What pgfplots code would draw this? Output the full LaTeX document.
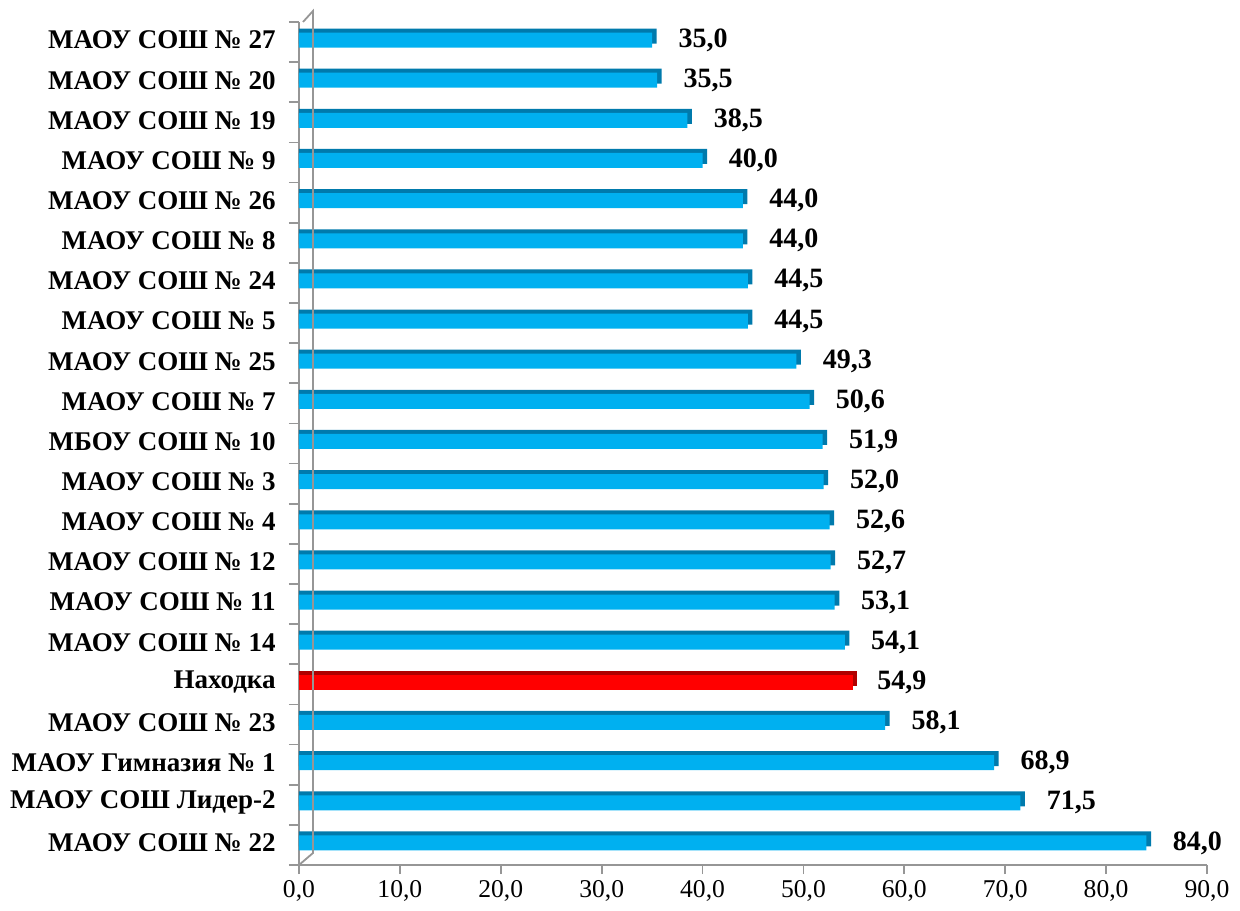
\documentclass[border=0pt]{standalone}
\usepackage{pgfplots}
\pgfplotsset{compat=1.18}
\usepackage{pgfplotstable}
\usepackage{fontspec}
\setmainfont{Liberation Serif}
\definecolor{barblue}{RGB}{0,176,240}
\definecolor{bardark}{RGB}{0,122,172}
\definecolor{barred}{RGB}{255,0,0}
\definecolor{reddark}{RGB}{176,0,0}
\definecolor{axgray}{RGB}{150,150,150}

\pgfplotstableread{
y v
0 84.0
1 71.5
2 68.9
3 58.1
5 54.1
6 53.1
7 52.7
8 52.6
9 52.0
10 51.9
11 50.6
12 49.3
13 44.5
14 44.5
15 44.0
16 44.0
17 40.0
18 38.5
19 35.5
20 35.0
}\blueTable
\pgfplotstableread{
y v
4 54.9
}\redTable

\begin{document}
\begin{tikzpicture}
\useasboundingbox (-149.5pt,-22.5pt) rectangle (470.5pt,432.5pt);
\begin{axis}[
  at={(0,0)}, anchor=south west,
  scale only axis, width=454pt, height=421.5pt,
  xmin=0, xmax=90, ymin=-0.55, ymax=20.45,
  clip=false,
  axis x line*=bottom, axis y line*=left,
  axis line style={draw=axgray, line width=0.9pt, -},
  xtick={0,10,...,90},
  xticklabel style={/pgf/number format/fixed, /pgf/number format/fixed zerofill, /pgf/number format/precision=1, /pgf/number format/use comma, /pgf/number format/assume math mode=true, font=\fontsize{12.8}{14}\selectfont, yshift=0.5pt},
  ytick={0,...,20},
  yticklabels={МАОУ СОШ № 22, МАОУ СОШ Лидер-2, МАОУ Гимназия № 1, МАОУ СОШ № 23, Находка, МАОУ СОШ № 14, МАОУ СОШ № 11, МАОУ СОШ № 12, МАОУ СОШ № 4, МАОУ СОШ № 3, МБОУ СОШ № 10, МАОУ СОШ № 7, МАОУ СОШ № 25, МАОУ СОШ № 5, МАОУ СОШ № 24, МАОУ СОШ № 8, МАОУ СОШ № 26, МАОУ СОШ № 9, МАОУ СОШ № 19, МАОУ СОШ № 20, МАОУ СОШ № 27},
  yticklabel style={font=\bfseries\fontsize{13.5}{15}\selectfont, inner sep=0pt, xshift=-7pt},
  minor ytick={-0.55,0.45,...,20.5},
  tick align=outside,
  major tick length=4.5pt,
  minor tick length=5pt,
  every tick/.style={draw=axgray, line width=0.9pt},
  y tick style={draw=none},
  minor y tick style={draw=axgray, line width=0.9pt},
  /pgf/bar shift=0pt,
]
% back (top/side faces)
\addplot[xbar, bar width=7.5pt, bar shift=2pt, fill=bardark, draw=none] table[x expr=\thisrow{v}+0.45, y=y]{\blueTable};
\addplot[xbar, bar width=7.5pt, bar shift=2pt, fill=reddark, draw=none] table[x expr=\thisrow{v}+0.45, y=y]{\redTable};
% front faces
\addplot[xbar, bar width=7.5pt, bar shift=0pt, fill=barblue, draw=none,
  point meta=x,
  nodes near coords={\pgfmathprintnumber[fixed, fixed zerofill, precision=1, use comma, assume math mode=true]{\pgfplotspointmeta}},
  every node near coord/.append style={font=\bfseries\fontsize{14}{16}\selectfont, anchor=west, inner sep=0pt, xshift=13pt, text=black}
] table[x=v, y=y]{\blueTable};
\addplot[xbar, bar width=7.5pt, bar shift=0pt, fill=barred, draw=none,
  point meta=x,
  nodes near coords={\pgfmathprintnumber[fixed, fixed zerofill, precision=1, use comma, assume math mode=true]{\pgfplotspointmeta}},
  every node near coord/.append style={font=\bfseries\fontsize{14}{16}\selectfont, anchor=west, inner sep=0pt, xshift=12pt, text=black}
] table[x=v, y=y]{\redTable};
% 3D back wall of the axis
\draw[axgray, line width=0.9pt] (rel axis cs:0,0) -- ([xshift=7pt,yshift=6pt]rel axis cs:0,0) -- ([xshift=7pt,yshift=5.5pt]rel axis cs:0,1) -- ([xshift=2pt]rel axis cs:0,1);
\end{axis}
\end{tikzpicture}
\end{document}
